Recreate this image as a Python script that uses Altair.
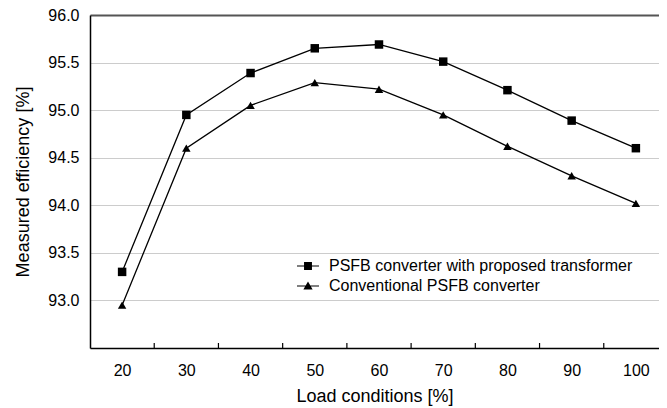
import altair as alt
import pandas as pd

loads = [20, 30, 40, 50, 60, 70, 80, 90, 100]
proposed = [93.30, 94.95, 95.39, 95.65, 95.69, 95.51, 95.21, 94.89, 94.60]
conventional = [92.95, 94.60, 95.05, 95.29, 95.22, 94.95, 94.62, 94.31, 94.02]
series_names = ["PSFB converter with proposed transformer", "Conventional PSFB converter"]
y_ticks = [93.0, 93.5, 94.0, 94.5, 95.0, 95.5, 96.0]

rows = []
for l, v in zip(loads, proposed):
    rows.append({"load": l, "eff": v, "series": series_names[0]})
for l, v in zip(loads, conventional):
    rows.append({"load": l, "eff": v, "series": series_names[1]})
df = pd.DataFrame(rows)

bounds = pd.DataFrame({"b": [(a + b) / 2 for a, b in zip(loads[:-1], loads[1:])]})

W, H = 569, 333
FONT = "Liberation Sans"

xscale = alt.Scale(domain=[15, 103.6], nice=False, zero=False)
yscale = alt.Scale(domain=[92.5, 96.0], nice=False, zero=False)

x_enc = alt.X("load:Q", scale=xscale,
              axis=alt.Axis(values=loads, ticks=False, tickSize=0, grid=False,
                            title="Load conditions [%]", labelPadding=14,
                            titlePadding=9, domainColor="black", domainWidth=1.5))
y_enc = alt.Y("eff:Q", scale=yscale,
              axis=alt.Axis(values=y_ticks, format=".1f", ticks=False, tickSize=0,
                            title="Measured efficiency [%]", labelPadding=11,
                            titlePadding=15, domainColor="black", domainWidth=1.5,
                            gridColor=alt.condition(alt.datum.value == 96, alt.value("#555555"), alt.value("#cccccc")),
                            gridWidth=alt.condition(alt.datum.value == 96, alt.value(2), alt.value(1))))

lines = alt.Chart(df).mark_line(color="black", strokeWidth=1.3).encode(
    x=x_enc, y=y_enc, detail="series:N"
)

points = alt.Chart(df).mark_point(filled=True, color="black", opacity=1, size=72).encode(
    x="load:Q", y="eff:Q",
    shape=alt.Shape("series:N", scale=alt.Scale(domain=series_names, range=["square", "triangle-up"]), legend=None),
)

sq_path = "M-1,-0.055H1V0.055H-1Z M-0.36,-0.36H0.36V0.36H-0.36Z"
tri_path = "M-1,-0.055H1V0.055H-1Z M0,-0.4L0.42,0.32H-0.42Z"

legend_layer = alt.Chart(df).transform_filter("false").mark_point(filled=True, color="black", opacity=1).encode(
    x="load:Q", y="eff:Q",
    shape=alt.Shape("series:N",
                    scale=alt.Scale(domain=series_names, range=[sq_path, tri_path]),
                    legend=alt.Legend(title=None, orient="none", legendX=206, legendY=239,
                                      symbolSize=484, symbolFillColor="black",
                                      labelFont=FONT, labelFontSize=16, labelColor="black",
                                      labelOffset=9, rowPadding=0, padding=0,
                                      labelLimit=400)),
)

ticks = alt.Chart(bounds).mark_rule(color="black", strokeWidth=1.2).encode(
    x=alt.X("b:Q", scale=xscale),
    y=alt.value(H - 5), y2=alt.value(H),
)

chart = alt.layer(lines, points, legend_layer, ticks).resolve_scale(shape="independent").properties(
    width=W, height=H,
    autosize=alt.AutoSizeParams(type="none"),
    padding={"left": 82, "top": 7, "right": 0, "bottom": 60},
).configure_view(stroke=None).configure_axis(
    labelFont=FONT, labelFontSize=16, labelColor="black",
    titleFont=FONT, titleFontSize=18, titleFontWeight="normal", titleColor="black",
)

chart.save("out.html", embed_options={"renderer": "svg", "actions": False})
